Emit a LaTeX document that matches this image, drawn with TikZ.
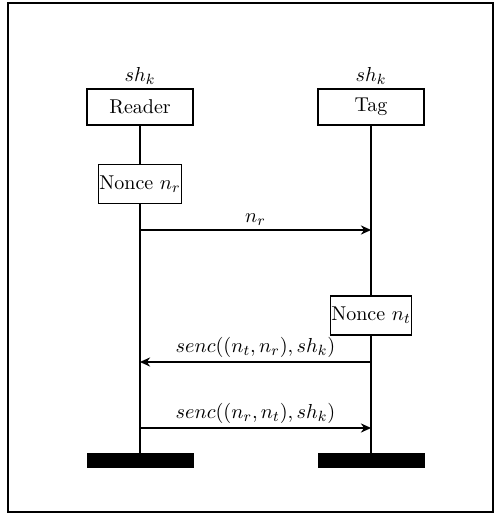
\documentclass[tikz,border=0pt]{standalone}
\usetikzlibrary{arrows.meta}
\begin{document}
\begin{tikzpicture}[x=0.54pt,y=-0.54pt,font=\fontsize{10.8}{13}\selectfont,
  party/.style={draw,line width=0.9pt,minimum width=106*0.54pt,minimum height=36*0.54pt,inner sep=0pt},
  noncebox/.style={draw,line width=0.9pt,minimum height=39*0.54pt,inner sep=0.5pt},
  life/.style={line width=0.65pt},
  msg/.style={line width=0.65pt,-{Stealth[length=5.5pt,width=5pt,inset=1.8pt]}},
  endbar/.style={fill=black,draw=black,minimum width=106*0.54pt,minimum height=14*0.54pt,inner sep=0pt}]
\useasboundingbox (0,0) rectangle (494,514);
\draw[line width=0.7pt] (8,3) rectangle (493,512);
% parties
\node[party] (R) at (140,107) {Reader};
\node[party] (T) at (371,107) {Tag};
\node (Rk) at (140,76) {$sh_k$};
\node (Tk) at (371,76) {$sh_k$};
% nonces
\node[noncebox] (NR) at (140,184) {Nonce $n_r$};
\node[noncebox] (NT) at (371,315.5) {Nonce $n_t$};
% end bars
\node[endbar] (RE) at (140,460.5) {};
\node[endbar] (TE) at (371,460.5) {};
% lifelines
\draw[life] (R.south) -- (NR.north);
\draw[life] (NR.south) -- (RE.north);
\draw[life] (T.south) -- (NT.north);
\draw[life] (NT.south) -- (TE.north);
% message anchor points
\coordinate (m1r) at (140,230);
\coordinate (m1t) at (371,230);
\coordinate (m2t) at (371,362);
\coordinate (m2r) at (140,362);
\coordinate (m3r) at (140,428);
\coordinate (m3t) at (371,428);
\draw[msg] (m1r) -- node[above=-1pt] (L1) {$n_r$} (m1t);
\draw[msg] (m2t) -- node[above=-1pt] (L2) {$senc((n_t,n_r),sh_k)$} (m2r);
\draw[msg] (m3r) -- node[above=-1pt] (L3) {$senc((n_r,n_t),sh_k)$} (m3t);
\end{tikzpicture}
\end{document}
